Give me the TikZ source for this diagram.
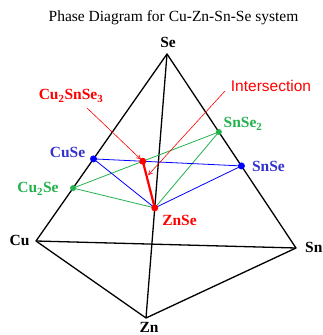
\documentclass[tikz,border=0pt]{standalone}
\usepackage{fontspec}
\setmainfont{Liberation Serif}
\newfontfamily\arialf{Liberation Sans}
\usetikzlibrary{arrows.meta,calc}
\definecolor{myblue}{RGB}{0,0,255}
\definecolor{bluetxt}{RGB}{51,51,204}
\definecolor{mygreen}{RGB}{34,177,76}
\definecolor{myred}{RGB}{255,0,0}
\tikzset{
  edge/.style={line width=1.3pt,black,line join=round},
  gline/.style={line width=0.8pt,mygreen},
  bline/.style={line width=0.8pt,myblue},
  rline/.style={line width=2.2pt,myred},
  pointer/.style={line width=0.6pt,myred,-{Straight Barb[length=4pt,width=4pt]},shorten >=2.5pt},
  lbl/.style={font=\fontsize{15.5}{18}\selectfont\bfseries,anchor=base,inner sep=0pt},
  gdot/.style={circle,fill=mygreen,inner sep=0pt,minimum size=6pt},
  bdot/.style={circle,fill=myblue,inner sep=0pt,minimum size=7pt},
  rdot/.style={circle,fill=myred,inner sep=0pt,minimum size=7pt},
}
\begin{document}
\begin{tikzpicture}[x=1pt,y=1pt]
\useasboundingbox (0,0) rectangle (322,335);
% vertices
\coordinate (Se) at (167,281);
\coordinate (Cu) at (36,94);
\coordinate (Sn) at (296,87);
\coordinate (Zn) at (146,17);
% phases
\coordinate (CuSe) at ($(Se)!0.561!(Cu)$);
\coordinate (Cu2Se) at ($(Se)!0.717!(Cu)$);
\coordinate (SnSe2) at ($(Se)!0.402!(Sn)$);
\coordinate (SnSe) at ($(Se)!0.577!(Sn)$);
\coordinate (ZnSe) at ($(Se)!0.583!(Zn)$);
\coordinate (CST) at (intersection of Cu2Se--SnSe2 and CuSe--SnSe);
\coordinate (tipI) at ($(CST)!0.33!(ZnSe)$);
% tetrahedron
\draw[edge] (Se) -- (Cu) -- (Zn) -- (Sn) -- cycle;
\draw[edge] (Cu) -- (Sn);
\draw[edge] (Se) -- (Zn);
% tie lines
\draw[gline] (Cu2Se) -- (SnSe2) -- (ZnSe) -- cycle;
\draw[bline] (CuSe) -- (SnSe) -- (ZnSe) -- cycle;
\draw[rline] (CST) -- (ZnSe);
% dots
\node[bdot] (dCuSe) at (CuSe) {};
\node[bdot] (dSnSe) at (SnSe) {};
\node[gdot] (dCu2Se) at (Cu2Se) {};
\node[gdot] (dSnSe2) at (SnSe2) {};
\node[rdot] (dCST) at (CST) {};
\node[rdot] (dZnSe) at (ZnSe) {};
% labels
\node[anchor=base,inner sep=0pt,font=\fontsize{15.5}{18}\selectfont] (title) at (173.5,313.5) {Phase Diagram for Cu-Zn-Sn-Se system};
\node[lbl] (lSe) at (168,287) {Se};
\node[lbl] (lCu) at (19.5,89.5) {Cu};
\node[lbl,anchor=base west] (lSn) at (305,82) {Sn};
\node[lbl] (lZn) at (149,2.5) {Zn};
\node[lbl,bluetxt] (lCuSe) at (67.5,177) {CuSe};
\node[lbl,bluetxt] (lSnSe) at (268.5,163) {SnSe};
\node[lbl,mygreen] (lCu2Se) at (38,142) {Cu\textsubscript{2}Se};
\node[lbl,mygreen] (lSnSe2) at (243,207) {SnSe\textsubscript{2}};
\node[lbl,myred] (lZnSe) at (179.5,109) {ZnSe};
\node[lbl,myred] (lCST) at (71,235) {Cu\textsubscript{2}SnSe\textsubscript{3}};
\node[anchor=base,inner sep=0pt,myred,font=\arialf\fontsize{15.5}{18}\selectfont] (lInt) at (271,243) {Intersection};
% pointers
\coordinate (sCST) at (87,227);
\coordinate (sInt) at (225,244);
\draw[pointer] (sCST) -- (CST);
\draw[pointer,shorten >=2pt] (sInt) -- (tipI);
\end{tikzpicture}
\end{document}
